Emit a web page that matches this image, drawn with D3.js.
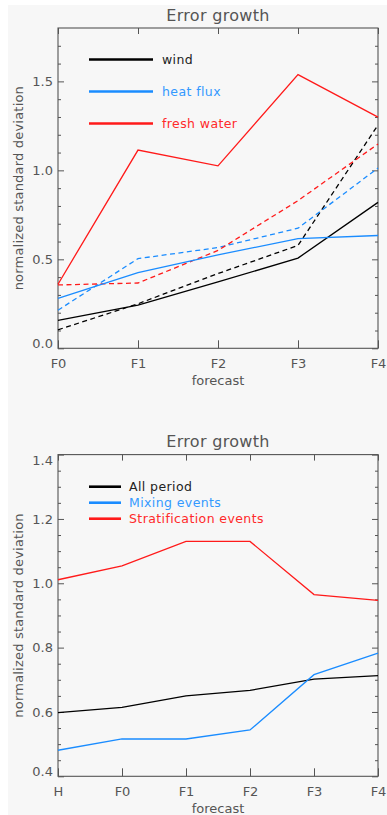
<!DOCTYPE html>
<html>
<head>
<meta charset="utf-8">
<script src="https://cdn.jsdelivr.net/npm/d3@7"></script>
<style>
  html, body { margin: 0; padding: 0; background: #fff; }
  svg { display: block; }
  text { font-family: "DejaVu Sans", sans-serif; fill: #555; }
</style>
</head>
<body>
<script>
// ---- Panel 1: error growth by forcing ----
const topCategories = ["F0", "F1", "F2", "F3", "F4"];
const windSolid      = [0.157, 0.243, 0.373, 0.507, 0.82];
const windDashed     = [0.104, 0.25, 0.42, 0.578, 1.255];
const heatSolid      = [0.28, 0.425, 0.525, 0.616, 0.634];
const heatDashed     = [0.214, 0.504, 0.566, 0.675, 1.013];
const freshSolid     = [0.36, 1.114, 1.025, 1.538, 1.299];
const freshDashed    = [0.356, 0.367, 0.55, 0.83, 1.148];
const topLegend      = ["wind", "heat flux", "fresh water"];
const topMajorTicks  = [0.0, 0.5, 1.0, 1.5];
const topMinorTicks  = [0.1, 0.2, 0.3, 0.4, 0.6, 0.7, 0.8, 0.9, 1.1, 1.2, 1.3, 1.4, 1.6, 1.7];

// ---- Panel 2: error growth by regime ----
const bottomCategories = ["H", "F0", "F1", "F2", "F3", "F4"];
const allPeriod        = [0.598, 0.614, 0.65, 0.667, 0.702, 0.713];
const mixingEvents     = [0.481, 0.516, 0.516, 0.544, 0.716, 0.783];
const stratEvents      = [1.011, 1.054, 1.13, 1.13, 0.965, 0.947];
const bottomLegend     = ["All period", "Mixing events", "Stratification events"];
const bottomMajorTicks = [0.4, 0.6, 0.8, 1.0, 1.2, 1.4];
const bottomMinorTicks = [0.45, 0.5, 0.55, 0.65, 0.7, 0.75, 0.85, 0.9, 0.95, 1.05, 1.1, 1.15, 1.25, 1.3, 1.35];

const COLORS = { black: "#000000", blue: "#1a8cff", red: "#ff1a1a" };
const AXIS = "#555";

const W = 387, H = 815;
const svg = d3.select("body").append("svg").attr("width", W).attr("height", H);
svg.append("rect").attr("x", 8).attr("y", 5).attr("width", W - 8).attr("height", H - 5).attr("fill", "#f7f7f7");

function drawPanel(opts) {
  const { top, bottom, left, right, cats, yDomain, major, minor, title, titleY,
          tickLabelY, xLabelY, series, legend, legendLayout } = opts;
  const g = svg.append("g");
  const x = d3.scalePoint().domain(cats).range([left, right]).padding(0);
  const y = d3.scaleLinear().domain(yDomain).range([bottom, top]);
  const fmt = d3.format(".1f");

  // frame
  g.append("rect").attr("x", left).attr("y", top).attr("width", right - left).attr("height", bottom - top)
    .attr("fill", "none").attr("stroke", AXIS).attr("stroke-width", 1.1);

  const styleAxis = sel => {
    sel.select(".domain").remove();
    sel.selectAll(".tick line").attr("stroke", AXIS).attr("stroke-width", 1);
    sel.selectAll(".tick text").attr("fill", "#555").style("font-size", "13px").style("font-family", "DejaVu Sans, sans-serif");
  };

  // left axis: major (labelled) + minor ticks pointing inward
  const yl = g.append("g").attr("transform", `translate(${left},0)`)
    .call(d3.axisLeft(y).tickValues(major).tickSize(-6).tickPadding(5).tickFormat(fmt));
  styleAxis(yl);
  yl.selectAll(".tick text").attr("dy", d => {
    if (d === yDomain[0]) return "-0.07em";
    if (d === yDomain[1]) return "0.74em";
    return "0.32em";
  });
  g.append("g").attr("transform", `translate(${left},0)`)
    .call(d3.axisLeft(y).tickValues(minor).tickSize(-3).tickFormat(""))
    .call(styleAxis);

  // right axis: ticks only
  g.append("g").attr("transform", `translate(${right},0)`)
    .call(d3.axisRight(y).tickValues(major).tickSize(-6).tickFormat(""))
    .call(styleAxis);
  g.append("g").attr("transform", `translate(${right},0)`)
    .call(d3.axisRight(y).tickValues(minor).tickSize(-3).tickFormat(""))
    .call(styleAxis);

  // top axis: ticks only
  g.append("g").attr("transform", `translate(0,${top})`)
    .call(d3.axisTop(x).tickSize(-6).tickFormat(""))
    .call(styleAxis);

  // bottom axis with category labels
  const xb = g.append("g").attr("transform", `translate(0,${bottom})`)
    .call(d3.axisBottom(x).tickSize(-8).tickPadding(0));
  styleAxis(xb);
  xb.selectAll(".tick text").attr("y", tickLabelY - bottom).attr("dy", "0.35em");

  // titles
  g.append("text").attr("x", (left + right) / 2).attr("y", titleY).attr("dy", "0.35em")
    .attr("text-anchor", "middle").style("font-size", "16px").attr("fill", "#444")
    .style("letter-spacing", "0.3px").text(title);
  g.append("text").attr("x", (left + right) / 2).attr("y", xLabelY).attr("dy", "0.35em")
    .attr("text-anchor", "middle").style("font-size", "13px").text("forecast");
  g.append("text").attr("transform", `translate(18,${(top + bottom) / 2}) rotate(-90)`)
    .attr("dy", "0.35em").attr("text-anchor", "middle").style("font-size", "13px")
    .style("letter-spacing", "0.2px").text("normalized standard deviation");

  // data lines
  const line = d3.line().x((d, i) => x(cats[i])).y(d => y(d));
  series.forEach(s => {
    g.append("path").datum(s.values).attr("d", line).attr("fill", "none")
      .attr("stroke", s.color).attr("stroke-width", 1.3)
      .attr("stroke-dasharray", s.dashed ? "5,3.5" : null);
  });

  // legend
  legend.forEach((l, i) => {
    const ly = legendLayout.y0 + i * legendLayout.dy;
    g.append("line").attr("x1", legendLayout.x1).attr("x2", legendLayout.x2)
      .attr("y1", ly).attr("y2", ly).attr("stroke", l.color).attr("stroke-width", 2.6);
    g.append("text").attr("x", legendLayout.tx).attr("y", ly).attr("dy", "0.35em")
      .style("font-size", legendLayout.fs).style("letter-spacing", "0.4px")
      .style("fill", l.textColor).text(l.label);
  });
}

drawPanel({
  top: 28, bottom: 348.3, left: 58, right: 378,
  cats: topCategories, yDomain: [0, 1.8], major: topMajorTicks, minor: topMinorTicks,
  title: "Error growth", titleY: 15, tickLabelY: 363.5, xLabelY: 380.5,
  series: [
    { values: windDashed, color: COLORS.black, dashed: true },
    { values: heatDashed, color: COLORS.blue, dashed: true },
    { values: freshDashed, color: COLORS.red, dashed: true },
    { values: windSolid, color: COLORS.black, dashed: false },
    { values: heatSolid, color: COLORS.blue, dashed: false },
    { values: freshSolid, color: COLORS.red, dashed: false }
  ],
  legend: [
    { label: topLegend[0], color: COLORS.black, textColor: "#222" },
    { label: topLegend[1], color: COLORS.blue, textColor: "#3399ff" },
    { label: topLegend[2], color: COLORS.red, textColor: "#ff2a2a" }
  ],
  legendLayout: { x1: 89, x2: 153, tx: 162, y0: 59.5, dy: 32, fs: "12.5px" }
});

drawPanel({
  top: 454.6, bottom: 776.3, left: 58, right: 378,
  cats: bottomCategories, yDomain: [0.4, 1.4], major: bottomMajorTicks, minor: bottomMinorTicks,
  title: "Error growth", titleY: 441.5, tickLabelY: 791.5, xLabelY: 808,
  series: [
    { values: allPeriod, color: COLORS.black, dashed: false },
    { values: mixingEvents, color: COLORS.blue, dashed: false },
    { values: stratEvents, color: COLORS.red, dashed: false }
  ],
  legend: [
    { label: bottomLegend[0], color: COLORS.black, textColor: "#222" },
    { label: bottomLegend[1], color: COLORS.blue, textColor: "#3399ff" },
    { label: bottomLegend[2], color: COLORS.red, textColor: "#ff2a2a" }
  ],
  legendLayout: { x1: 89, x2: 121, tx: 129, y0: 486.7, dy: 16, fs: "12.5px" }
});
</script>
</body>
</html>
